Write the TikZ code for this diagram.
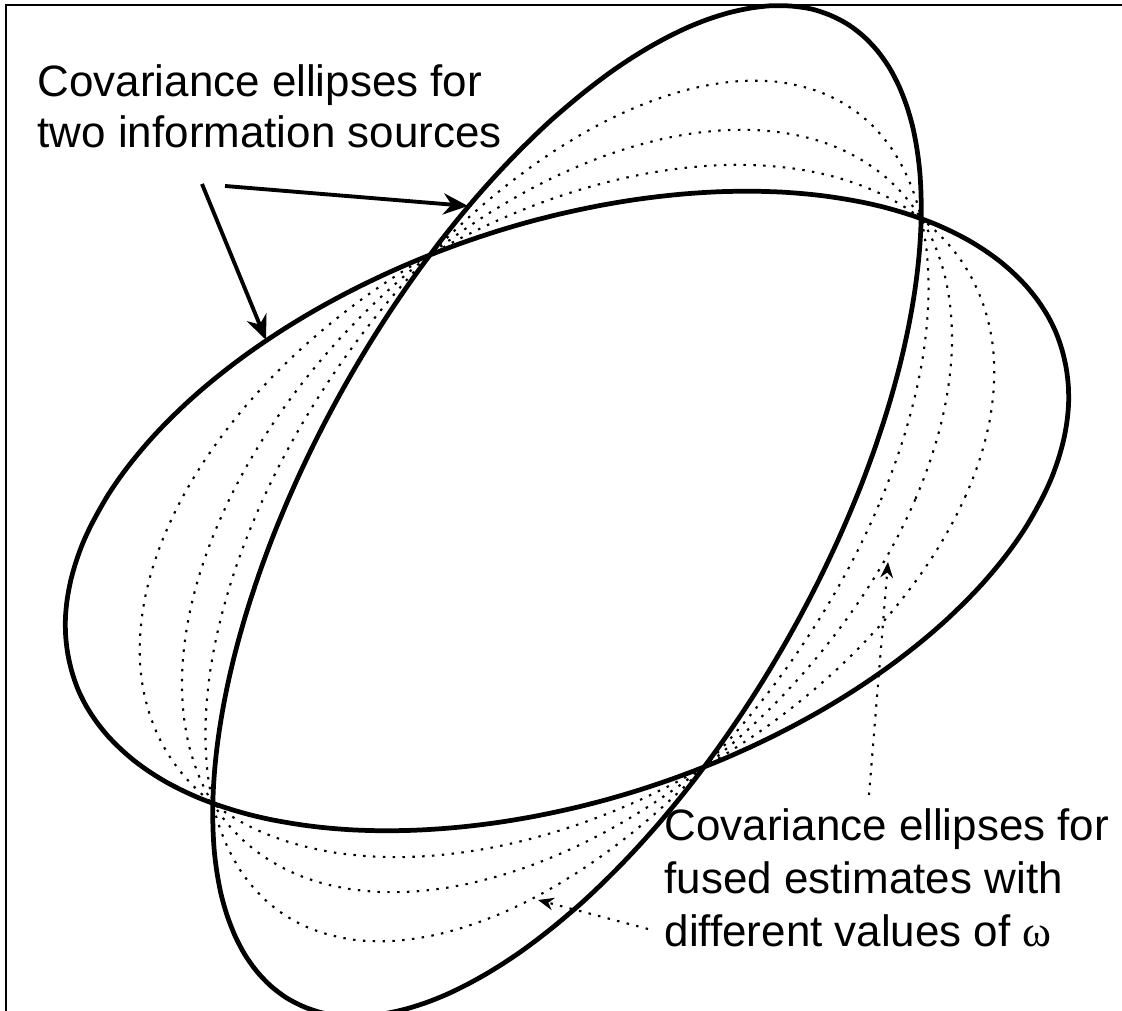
\documentclass[tikz,border=0pt]{standalone}
\usepackage{fontspec}
\setmainfont{Liberation Sans}
\newfontfamily\greekfont{Liberation Serif}
\usetikzlibrary{arrows.meta}

\begin{document}
\begin{tikzpicture}[>={Stealth[length=7pt,width=6pt]},
    outline/.style={line width=1.35pt},
    fused/.style={line width=0.6pt, dash pattern=on 0.7pt off 2.1pt},
    pointer/.style={line width=1.1pt, ->},
    leader/.style={fused, -{Stealth[length=4.5pt,width=3.6pt]}},
    infotext/.style={anchor=base west, align=left, inner sep=0pt},
    declare function={
        qa(\x)=0.0456*cos(\x)*cos(\x)-0.0512*cos(\x)*sin(\x)+0.1122*sin(\x)*sin(\x);
        qb(\x)=0.1243*cos(\x)*cos(\x)-0.1044*cos(\x)*sin(\x)+0.0611*sin(\x)*sin(\x);
    }]
    \useasboundingbox (0,0) rectangle (11.22,10.11);
    % Khung
    \draw[line width=0.6pt] (0.06,0) -- (0.06,10.06) -- (11.22,10.06);
    \coordinate (C) at (5.67,5.00);

    % Hai elip hiệp phương sai
    \draw[outline, shift={(C)}] plot[domain=0:358, samples=180, smooth cycle]
        (\x:{1/sqrt(qa(\x))});
    \draw[outline, shift={(C)}] plot[domain=0:358, samples=180, smooth cycle]
        (\x:{1/sqrt(qb(\x))});

    % Các elip hợp nhất với omega khác nhau
    \foreach \w in {0.25,0.5,0.75} {
        \draw[fused, shift={(C)}] plot[domain=0:358, samples=180, smooth cycle]
            (\x:{1/sqrt(\w*qa(\x)+(1-\w)*qb(\x))});
    }

    % Chú thích
    \node[infotext, font=\fontsize{12.5}{14.6}\selectfont] (srcText) at (0.37,8.63)
        {Covariance ellipses for\\two information sources};
    \node[infotext, font=\fontsize{12.5}{15.1}\selectfont] (fusedText) at (6.64,0.64)
        {Covariance ellipses for\\fused estimates with\\different values of {\greekfont ω}};

    \coordinate (srcA) at (2.25,8.25);
    \coordinate (srcB) at (2.02,8.27);
    \coordinate (tipB) at (4.68,8.05);
    \coordinate (tipA) at (2.66,6.71);
    \draw[pointer] (srcA) -- (tipB);
    \draw[pointer] (srcB) -- (tipA);

    \coordinate (fromUp) at (8.69,2.16);
    \coordinate (onMid) at (8.88,4.49);
    \coordinate (fromLeft) at (6.48,0.82);
    \coordinate (onLow) at (5.38,1.11);
    \draw[leader] (fromUp) -- (onMid);
    \draw[leader] (fromLeft) -- (onLow);
\end{tikzpicture}
\end{document}
